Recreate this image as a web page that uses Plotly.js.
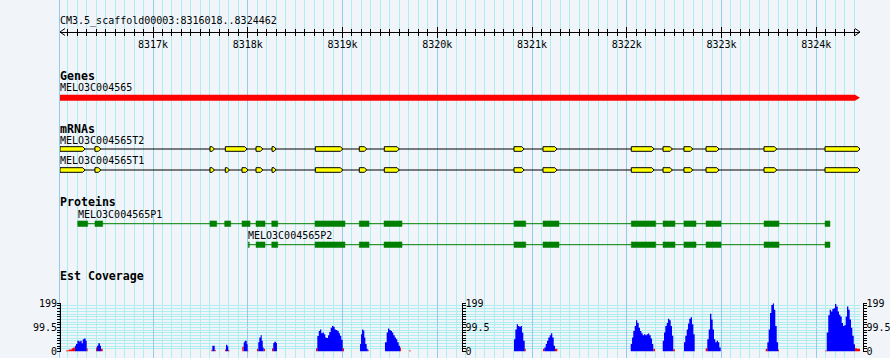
<!DOCTYPE html>
<html><head><meta charset="utf-8">
<script src="https://cdn.plot.ly/plotly-3.0.1.min.js"></script>
<style>html,body{margin:0;padding:0;background:#F1F5FA;}#chart{width:890px;height:358px;}</style>
</head><body><div id="chart"></div>
<script>
// ---------- data ----------
const refName = 'CM3.5_scaffold00003';
const viewStart = 8316018;
const viewEnd = 8324462;
const rulerTicks = [8317000, 8318000, 8319000, 8320000, 8321000, 8322000, 8323000, 8324000];
const rulerLabels = ['8317k', '8318k', '8319k', '8320k', '8321k', '8322k', '8323k', '8324k'];

const geneName = 'MELO3C004565';
const geneSpan = [8316018, 8324462];

const t2Name = 'MELO3C004565T2';
const t2Starts = [8316018, 8316387, 8317601, 8317763, 8318087, 8318256, 8318713, 8319177, 8319441, 8320810, 8321116, 8322048, 8322383, 8322604, 8322837, 8323449, 8324093];
const t2Ends   = [8316282, 8316448, 8317647, 8317992, 8318158, 8318298, 8319002, 8319255, 8319599, 8320916, 8321264, 8322288, 8322481, 8322696, 8322974, 8323583, 8324462];

const t1Name = 'MELO3C004565T1';
const t1Starts = [8316018, 8316387, 8317601, 8317763, 8317939, 8318087, 8318256, 8318713, 8319177, 8319441, 8320810, 8321116, 8322048, 8322383, 8322604, 8322837, 8323449, 8324093];
const t1Ends   = [8316282, 8316448, 8317647, 8317805, 8318002, 8318158, 8318298, 8319002, 8319255, 8319599, 8320916, 8321264, 8322288, 8322481, 8322696, 8322974, 8323583, 8324462];

const p1Name = 'MELO3C004565P1';
const p1Starts = [8316205, 8316387, 8317601, 8317756, 8317939, 8318087, 8318253, 8318710, 8319177, 8319438, 8320810, 8321116, 8322048, 8322383, 8322604, 8322837, 8323449, 8324093];
const p1Ends   = [8316310, 8316469, 8317672, 8317820, 8318024, 8318182, 8318316, 8319026, 8319280, 8319628, 8320934, 8321285, 8322306, 8322509, 8322731, 8322995, 8323607, 8324145];

const p2Name = 'MELO3C004565P2';
const p2Starts = [8318006, 8318087, 8318253, 8318710, 8319177, 8319438, 8320810, 8321116, 8322048, 8322383, 8322604, 8322837, 8323449, 8324093];
const p2Ends   = [8318016, 8318182, 8318316, 8319026, 8319280, 8319628, 8320934, 8321285, 8322306, 8322509, 8322731, 8322995, 8323607, 8324145];

const covMax = 199;
const covTickLabels = ['0', '99.5', '199'];
// EST coverage (step edges, value from that edge on)
const covBlueX = [
 8316176,8316187,8316201,8316222,8316232,8316247,8316258,8316271,8316289,8316300,
 8316409,8316422,8316440,8316451,
 8317626,8317651,
 8317770,8317784,8317794,
 8317957,8317968,8317989,8317999,
 8318111,8318122,8318136,8318147,8318158,8318168,
 8318269,8318280,8318298,8318308,
 8318734,8318749,8318762,8318776,8318791,8318804,8318818,8318833,8318847,8318860,8318875,8318889,8318903,8318917,8318931,8318945,8318960,8318973,8318987,8319002,
 8319185,8319195,8319206,8319219,8319230,8319241,8319255,8319266,
 8319448,8319466,8319480,8319494,8319509,8319522,8319536,8319551,8319565,8319578,8319593,8319607,
 8320810,8320824,8320839,8320852,8320866,8320881,8320894,8320908,8320923,
 8321130,8321145,8321158,8321172,8321187,8321201,8321214,8321229,8321243,
 8322042,8322056,8322069,8322084,8322098,8322111,8322126,8322140,8322154,8322168,8322182,8322196,8322211,8322224,8322238,8322253,8322267,8322280,
 8322380,8322393,8322407,8322422,8322435,8322449,8322464,8322478,8322491,
 8322604,8322618,8322633,8322647,8322660,8322675,8322689,8322703,8322717,
 8322850,8322865,8322879,8322893,8322907,8322921,8322935,8322950,8322963,8322977,8322992,
 8323484,8323498,8323512,8323526,8323541,8323554,8323568,8323583,8323597,
 8324111,8324127,8324142,8324156,8324170,8324184,8324198,8324212,8324227,8324240,8324254,8324269,8324283,8324296,8324311,8324325,8324339,8324353,8324367,8324381,8324396,8324409
];
const covBlueY = [
 24,31,44,40,44,34,51,54,44,0,
 24,34,24,0,
 24,0,
 28,22,0,
 38,44,30,0,
 38,58,67,44,17,0,
 35,40,35,0,
 64,85,91,75,78,71,58,56,67,81,98,105,102,91,89,85,75,65,48,0,
 31,71,91,87,58,31,11,0,
 38,78,95,89,85,78,67,58,51,38,24,0,
 51,91,112,105,102,105,78,44,0,
 17,31,44,58,67,75,58,24,0,
 31,58,85,105,129,118,98,85,75,67,71,67,71,74,67,54,31,0,
 44,78,105,118,135,129,105,65,0,
 38,65,91,116,135,141,112,71,0,
 51,91,156,132,91,51,38,44,38,17,0,
 38,91,159,192,199,172,105,38,0,
 78,150,172,165,175,179,196,186,165,152,145,118,105,108,145,186,172,132,98,65,30,0
];
const covRedX = [
 8316081,8316110,8316142,8316158,8316176,8316300,8316310,
 8316398,8316409,8316451,8316469,
 8317615,8317626,8317651,8317661,
 8317760,8317770,8317794,8317805,
 8317942,8317957,8317999,8318006,
 8318097,8318111,8318168,8318182,
 8318256,8318269,
 8318720,8318734,8319002,8319016,
 8319266,8319276,
 8319607,8319617,
 8319702,8319720,
 8320923,8320934,
 8321116,8321130,8321243,8321267,
 8322280,8322298,
 8322491,8322509,
 8322833,8322850,
 8323467,8323484,8323597,8323607,
 8324093,8324111,8324409,8324430,8324462
];
const covRedY = [
 4,8,13,17,0,13,0,
 17,0,11,0,
 7,0,7,0,
 8,0,6,0,
 20,0,5,0,
 11,0,11,0,
 13,0,
 13,0,13,0,
 7,0,
 17,0,
 4,0,
 11,0,
 11,0,11,0,
 11,0,
 9,0,
 13,0,
 11,0,8,0,
 4,0,13,11,0
];

// ---------- layout constants ----------
const W = 890, H = 358;
const X0 = 60, X1 = 860;
const bpPerPx = (viewEnd - viewStart) / (X1 - X0);
const bg = '#F1F5FA';
const majorGrid = '#8FCDEB';
const minorGrid = '#AFEEF0';
const mono = 'DejaVu Sans Mono, monospace';
const rulerY = 32;
const covTop = 303.3, covBase = 351.5;

function exonPoly(starts, ends, yc, h, tipPx) {
  const xs = [], ys = [];
  for (let i = 0; i < starts.length; i++) {
    const a = starts[i], b = ends[i];
    const t = Math.min(tipPx * bpPerPx, (b - a) / 2);
    xs.push(a, b - t, b, b - t, a, a, null);
    ys.push(yc - h, yc - h, yc, yc + h, yc + h, yc - h, null);
  }
  return {xs, ys};
}
function boxPoly(starts, ends, yc, h) {
  const xs = [], ys = [];
  for (let i = 0; i < starts.length; i++) {
    xs.push(starts[i], ends[i], ends[i], starts[i], starts[i], null);
    ys.push(yc - h, yc - h, yc + h, yc + h, yc - h, null);
  }
  return {xs, ys};
}

const traces = [];
// gene bar
const gTip = 5 * bpPerPx;
traces.push({x: [geneSpan[0], geneSpan[1] - gTip, geneSpan[1], geneSpan[1] - gTip, geneSpan[0], geneSpan[0]],
  y: [94.7, 94.7, 97.7, 100.7, 100.7, 94.7], mode: 'lines', fill: 'toself', fillcolor: '#FF0000',
  line: {width: 0}, xaxis: 'x', yaxis: 'y', hoverinfo: 'skip'});

// mRNAs
[[t2Starts, t2Ends, 149], [t1Starts, t1Ends, 170]].forEach(([s, e, yc]) => {
  traces.push({x: [s[0], e[e.length - 1]], y: [yc, yc], mode: 'lines', line: {color: '#000000', width: 1},
    xaxis: 'x', yaxis: 'y', hoverinfo: 'skip'});
  const p = exonPoly(s, e, yc, 2.3, 2.2);
  traces.push({x: p.xs, y: p.ys, mode: 'lines', fill: 'toself', fillcolor: '#FFFF00',
    line: {color: '#000000', width: 1}, xaxis: 'x', yaxis: 'y', hoverinfo: 'skip'});
});

// proteins
[[p1Starts, p1Ends, 223.7], [p2Starts, p2Ends, 244.7]].forEach(([s, e, yc]) => {
  traces.push({x: [s[0], e[e.length - 1]], y: [yc, yc], mode: 'lines', line: {color: '#008000', width: 1},
    xaxis: 'x', yaxis: 'y', hoverinfo: 'skip'});
  const p = boxPoly(s, e, yc, 2.8);
  traces.push({x: p.xs, y: p.ys, mode: 'lines', fill: 'toself', fillcolor: '#008000',
    line: {color: '#008000', width: 0.5}, xaxis: 'x', yaxis: 'y', hoverinfo: 'skip'});
});

// coverage
traces.push({x: covRedX, y: covRedY, mode: 'lines', line: {shape: 'hv', width: 0}, fill: 'tozeroy',
  fillcolor: '#FF0000', xaxis: 'x', yaxis: 'y2', hoverinfo: 'skip'});
traces.push({x: covBlueX, y: covBlueY, mode: 'lines', line: {shape: 'hv', width: 0}, fill: 'tozeroy',
  fillcolor: '#0000FF', xaxis: 'x', yaxis: 'y2', hoverinfo: 'skip'});
// helpers for extra axes
traces.push({x: [null], y: [null], mode: 'markers', xaxis: 'x2', yaxis: 'y', hoverinfo: 'skip'});
traces.push({x: [null], y: [null], mode: 'markers', xaxis: 'x', yaxis: 'y3', hoverinfo: 'skip'});
traces.push({x: [null], y: [null], mode: 'markers', xaxis: 'x', yaxis: 'y4', hoverinfo: 'skip'});

const minorVals = [];
for (let v = 8316100; v <= 8324400; v += 100) if (v % 1000 !== 0) minorVals.push(v);

const tickFont = {family: mono, size: 10, color: '#000000'};
const covDomain = [1 - covBase / H, 1 - covTop / H];
function covAxis(pos, side, extra) {
  return Object.assign({
    domain: covDomain, range: [0, covMax], anchor: 'free', position: pos / W, side: side,
    showline: true, linecolor: '#000000', linewidth: 1, ticks: 'outside', ticklen: 3, tickwidth: 1,
    tickcolor: '#000000', tickmode: 'array', tickvals: [0, covMax / 2, covMax], ticktext: covTickLabels,
    tickfont: tickFont, ticklabelstandoff: -2, zeroline: false, fixedrange: true, showgrid: false,
    minor: {tickmode: 'linear', tick0: 0, dtick: covMax / 18, ticks: 'outside', ticklen: 3, tickwidth: 1,
      tickcolor: '#000000', showgrid: false}
  }, extra || {});
}

const layout = {
  width: W, height: H, margin: {l: 0, r: 0, t: 0, b: 0, pad: 0},
  paper_bgcolor: bg, plot_bgcolor: bg, showlegend: false, hovermode: false,
  xaxis: {domain: [X0 / W, X1 / W], range: [viewStart, viewEnd], anchor: 'free', position: 1 - rulerY / H,
    side: 'bottom', showline: true, linecolor: '#000000', linewidth: 1, ticks: 'outside', ticklen: 5,
    tickwidth: 1, tickcolor: '#000000', tickmode: 'array', tickvals: rulerTicks, ticktext: rulerLabels,
    tickfont: tickFont, ticklabelstandoff: -2, showgrid: true, gridcolor: majorGrid, gridwidth: 1, zeroline: false, fixedrange: true,
    minor: {tickmode: 'array', tickvals: minorVals, ticks: 'outside', ticklen: 3, tickwidth: 1,
      tickcolor: '#000000', showgrid: true, gridcolor: minorGrid, gridwidth: 1}},
  xaxis2: {overlaying: 'x', domain: [X0 / W, X1 / W], range: [viewStart, viewEnd], anchor: 'free',
    position: 1 - rulerY / H, side: 'top', showline: false, ticks: 'outside', ticklen: 5, tickwidth: 1,
    tickcolor: '#000000', tickmode: 'array', tickvals: rulerTicks, showticklabels: false, showgrid: false,
    zeroline: false, fixedrange: true,
    minor: {tickmode: 'array', tickvals: minorVals, ticks: 'outside', ticklen: 3, tickwidth: 1,
      tickcolor: '#000000', showgrid: false}},
  yaxis: {domain: [0, 1], range: [H, 0], visible: false, fixedrange: true},
  yaxis2: covAxis(60, 'left', {showgrid: true, gridcolor: minorGrid, gridwidth: 1,
    minor: {tickmode: 'linear', tick0: 0, dtick: covMax / 18, ticks: 'outside', ticklen: 3, tickwidth: 1,
      tickcolor: '#000000', showgrid: true, gridcolor: minorGrid, gridwidth: 1}}),
  yaxis3: covAxis(461.5, 'right', {overlaying: 'y2'}),
  yaxis4: covAxis(862.5, 'right', {overlaying: 'y2'}),
  shapes: [
    {type: 'line', xref: 'paper', yref: 'y', x0: 59.5 / W, x1: 59.5 / W, y0: 0, y1: H, line: {color: majorGrid, width: 1}, layer: 'below'},
    {type: 'path', xref: 'paper', yref: 'y', path: `M ${65 / W},${rulerY - 3.5} L ${60 / W},${rulerY} L ${65 / W},${rulerY + 3.5}`, line: {color: '#000000', width: 1}},
    {type: 'path', xref: 'paper', yref: 'y', path: `M ${855 / W},${rulerY - 3.5} L ${860 / W},${rulerY} L ${855 / W},${rulerY + 3.5}`, line: {color: '#000000', width: 1}}
  ],
  annotations: []
};

function label(text, xref, x, y, bold) {
  layout.annotations.push({text: bold ? '<b>' + text + '</b>' : text, xref: xref, yref: 'y', x: x, y: y,
    xanchor: 'left', yanchor: 'middle', showarrow: false, xshift: -1,
    font: {family: mono, size: bold ? 11.6 : 10, color: '#000000'}, borderpad: 0});
}
label(refName + ':' + viewStart + '..' + viewEnd, 'paper', X0 / W, 21, false);
label('Genes', 'paper', X0 / W, 76, true);
label(geneName, 'x', geneSpan[0], 87.5, false);
label('mRNAs', 'paper', X0 / W, 128.7, true);
label(t2Name, 'x', t2Starts[0], 140.5, false);
label(t1Name, 'x', t1Starts[0], 160.8, false);
label('Proteins', 'paper', X0 / W, 202, true);
label(p1Name, 'x', p1Starts[0], 214.5, false);
label(p2Name, 'x', p2Starts[0], 235, false);
label('Est Coverage', 'paper', X0 / W, 276, true);

Plotly.newPlot('chart', traces, layout, {displayModeBar: false, staticPlot: true});
</script></body></html>
